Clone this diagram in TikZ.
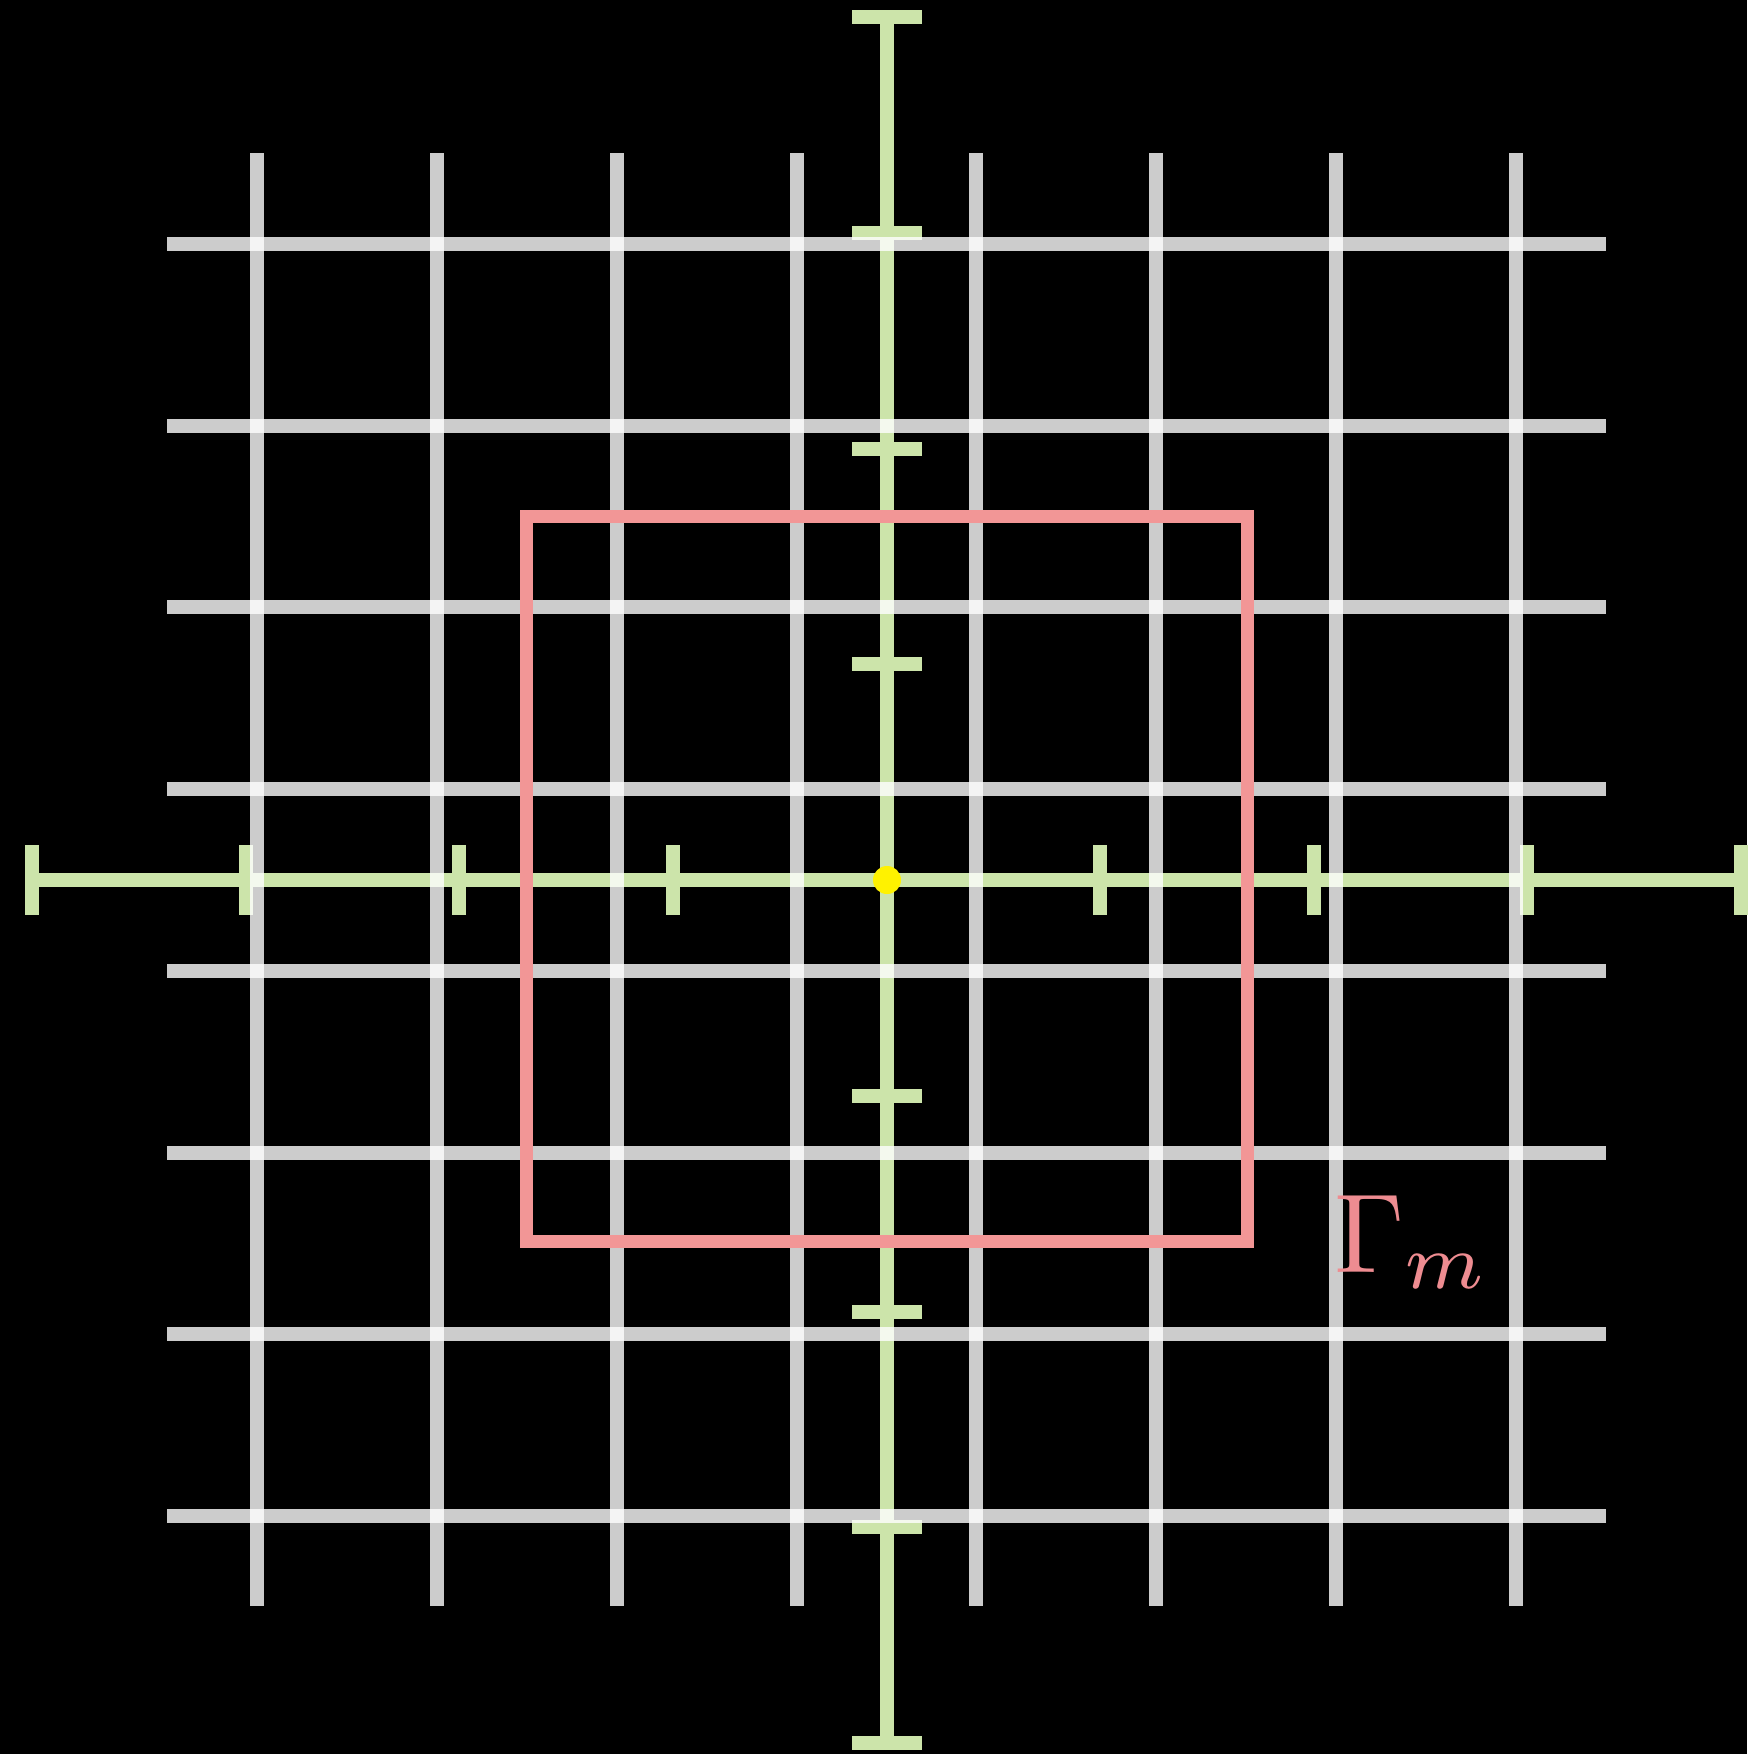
\documentclass[tikz,border=0pt]{standalone}
\definecolor{axgreen}{RGB}{204,228,170}
\definecolor{contred}{RGB}{242,150,150}
\definecolor{labred}{RGB}{238,140,145}
\begin{document}
\begin{tikzpicture}[x=0.01cm,y=-0.01cm,
  axisline/.style={draw=axgreen,line width=0.14cm},
  gridline/.style={draw=white,draw opacity=0.8,line width=0.14cm},
  contour/.style={draw=contred,line width=0.13cm}]
\fill[black] (0,0) rectangle (1747,1754);
\useasboundingbox (0,0) rectangle (1747,1754);
% axes
\draw[axisline] (32,880) -- (1741,880);
\draw[axisline] (887,17) -- (887,1743);
\foreach \i in {0,1,2,3,5,6,7,8}{
  \draw[axisline] ({32+213.6*\i},845) -- ({32+213.6*\i},915);
  \draw[axisline] (852,{17+215.75*\i}) -- (922,{17+215.75*\i});
}
% grid
\foreach \k in {0,...,7}{
  \draw[gridline] ({257+179.86*\k},153) -- ({257+179.86*\k},1606);
  \draw[gridline] (167,{244+181.7*\k}) -- (1606,{244+181.7*\k});
}
% contour
\draw[contour] (526,516) rectangle (1247,1241);
\node[circle,fill=yellow,minimum size=0.28cm,inner sep=0pt] (origin) at (887,880) {};
\node[anchor=base west,inner sep=0pt,text=labred,scale=3.2] (gamma) at (1332,1272) {$\Gamma_m$};
\end{tikzpicture}
\end{document}
